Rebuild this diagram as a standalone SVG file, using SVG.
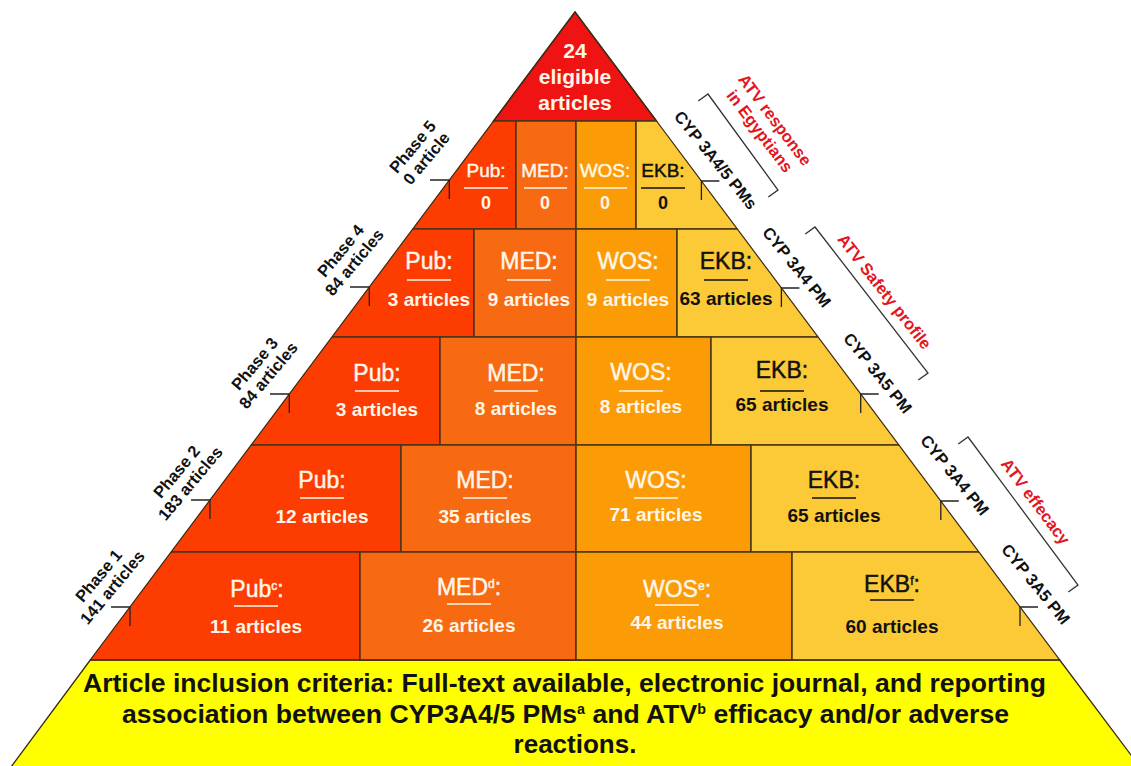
<svg xmlns="http://www.w3.org/2000/svg" width="1131" height="766" viewBox="0 0 1131 766">
<style>
.cell{stroke:#4a3418;stroke-width:1.5}
.pub{fill:#FD3C02}
.med{fill:#F86A12}
.wos{fill:#FB9B06}
.ekb{fill:#FCC937}
.h{font-family:"Liberation Sans",Arial,sans-serif;font-size:23px;text-anchor:middle;stroke-width:0.45px}
.c{font-family:"Liberation Sans",Arial,sans-serif;font-size:19px;font-weight:bold;text-anchor:middle}
.s{font-size:19px}
.w{fill:#FFF6E8}
.h.w{stroke:#FFF6E8}
.k{fill:#111}
.h.k{stroke:#111}
.ulw{stroke:#FFF6E8;stroke-width:1.6}
.ulk{stroke:#111;stroke-width:1.6}
.sup{font-size:12px}
.lbl{font-family:"Liberation Sans",Arial,sans-serif;font-size:16.5px;font-weight:bold;text-anchor:middle;fill:#111}
.red{font-family:"Liberation Sans",Arial,sans-serif;font-size:16.5px;font-weight:bold;text-anchor:middle;fill:#E3151D}
.tick{fill:none;stroke:#222;stroke-width:1.3}
.br{fill:none;stroke:#333;stroke-width:1.3}
.base{font-family:"Liberation Sans",Arial,sans-serif;font-size:26px;font-weight:bold;fill:#111}
</style>
<defs>
<clipPath id="tri"><polygon points="575,12 1059.7,660 90.3,660"/></clipPath>
</defs>
<rect width="1131" height="766" fill="#fff"/>

<g id="base">
<polygon points="90.3,660 1059.7,660 1140,767 11,767" fill="#FFFF00" stroke="#3a2a14" stroke-width="1.3"/>
<text class="base" x="83" y="692" textLength="963" lengthAdjust="spacingAndGlyphs">Article inclusion criteria: Full-text available, electronic journal, and reporting</text>
<text class="base" x="122" y="723" textLength="887" lengthAdjust="spacingAndGlyphs">association between CYP3A4/5 PMs<tspan font-size="14" dy="-9">a</tspan><tspan dy="9"> and ATV</tspan><tspan font-size="14" dy="-9">b</tspan><tspan dy="9"> efficacy and/or adverse</tspan></text>
<text class="base" x="575" y="753" text-anchor="middle">reactions.</text>
</g>

<g id="apex">
<polygon points="575,12 656.5,121 493.5,121" fill="#F01313" stroke="#4a3418" stroke-width="1.5"/>
<text class="c w" x="575" y="58" style="font-size:21px">24</text>
<text class="c w" x="575" y="84" style="font-size:21px">eligible</text>
<text class="c w" x="575" y="110" style="font-size:21px">articles</text>
</g>

<g id="row5">
<g id="pub5"><rect class="cell pub" x="0" y="121" width="516" height="108" clip-path="url(#tri)"/>
<text class="h w s" x="486" y="177">Pub:</text><line class="ulw" x1="464" y1="188" x2="508" y2="188"/><text class="c w" x="486" y="209" style="font-size:18px">0</text></g>
<g id="med5"><rect class="cell med" x="516" y="121" width="60" height="108"/>
<text class="h w s" x="545" y="177">MED:</text><line class="ulw" x1="524" y1="188" x2="567" y2="188"/><text class="c w" x="545" y="209" style="font-size:18px">0</text></g>
<g id="wos5"><rect class="cell wos" x="576" y="121" width="60" height="108"/>
<text class="h w s" x="605" y="177">WOS:</text><line class="ulw" x1="584" y1="188" x2="627" y2="188"/><text class="c w" x="605" y="209" style="font-size:18px">0</text></g>
<g id="ekb5"><rect class="cell ekb" x="636" y="121" width="495" height="108" clip-path="url(#tri)"/>
<text class="h k s" x="663" y="177">EKB:</text><line class="ulk" x1="641" y1="188" x2="685" y2="188"/><text class="c k" x="663" y="209" style="font-size:18px">0</text></g>
</g>

<g id="row4">
<g id="pub4"><rect class="cell pub" x="0" y="229" width="474" height="108" clip-path="url(#tri)"/>
<text class="h w" x="429" y="269">Pub:</text><line class="ulw" x1="407" y1="280" x2="451" y2="280"/><text class="c w" x="429" y="306">3 articles</text></g>
<g id="med4"><rect class="cell med" x="474" y="229" width="102" height="108"/>
<text class="h w" x="529" y="269">MED:</text><line class="ulw" x1="507" y1="280" x2="551" y2="280"/><text class="c w" x="529" y="306">9 articles</text></g>
<g id="wos4"><rect class="cell wos" x="576" y="229" width="101" height="108"/>
<text class="h w" x="628" y="269">WOS:</text><line class="ulw" x1="606" y1="280" x2="650" y2="280"/><text class="c w" x="628" y="306">9 articles</text></g>
<g id="ekb4"><rect class="cell ekb" x="677" y="229" width="454" height="108" clip-path="url(#tri)"/>
<text class="h k" x="726" y="269">EKB:</text><line class="ulk" x1="704" y1="280" x2="748" y2="280"/><text class="c k" x="726" y="305">63 articles</text></g>
</g>

<g id="row3">
<g id="pub3"><rect class="cell pub" x="0" y="337" width="440" height="108" clip-path="url(#tri)"/>
<text class="h w" x="377" y="381">Pub:</text><line class="ulw" x1="355" y1="391" x2="399" y2="391"/><text class="c w" x="377" y="416">3 articles</text></g>
<g id="med3"><rect class="cell med" x="440" y="337" width="136" height="108"/>
<text class="h w" x="516" y="381">MED:</text><line class="ulw" x1="494" y1="391" x2="538" y2="391"/><text class="c w" x="516" y="415">8 articles</text></g>
<g id="wos3"><rect class="cell wos" x="576" y="337" width="135" height="108"/>
<text class="h w" x="641" y="380">WOS:</text><line class="ulw" x1="619" y1="391" x2="663" y2="391"/><text class="c w" x="641" y="413">8 articles</text></g>
<g id="ekb3"><rect class="cell ekb" x="711" y="337" width="420" height="108" clip-path="url(#tri)"/>
<text class="h k" x="782" y="378">EKB:</text><line class="ulk" x1="760" y1="391" x2="804" y2="391"/><text class="c k" x="782" y="411">65 articles</text></g>
</g>

<g id="row2">
<g id="pub2"><rect class="cell pub" x="0" y="445" width="401" height="107" clip-path="url(#tri)"/>
<text class="h w" x="322" y="488">Pub:</text><line class="ulw" x1="300" y1="498" x2="344" y2="498"/><text class="c w" x="322" y="523">12 articles</text></g>
<g id="med2"><rect class="cell med" x="401" y="445" width="175" height="107"/>
<text class="h w" x="485" y="488">MED:</text><line class="ulw" x1="463" y1="498" x2="507" y2="498"/><text class="c w" x="485" y="523">35 articles</text></g>
<g id="wos2"><rect class="cell wos" x="576" y="445" width="175" height="107"/>
<text class="h w" x="656" y="488">WOS:</text><line class="ulw" x1="634" y1="498" x2="678" y2="498"/><text class="c w" x="656" y="521">71 articles</text></g>
<g id="ekb2"><rect class="cell ekb" x="751" y="445" width="380" height="107" clip-path="url(#tri)"/>
<text class="h k" x="834" y="488">EKB:</text><line class="ulk" x1="812" y1="498" x2="856" y2="498"/><text class="c k" x="834" y="522">65 articles</text></g>
</g>

<g id="row1">
<g id="pub1"><rect class="cell pub" x="0" y="552" width="360" height="108" clip-path="url(#tri)"/>
<text class="h w" x="257" y="597">Pub<tspan class="sup" dy="-7">c</tspan><tspan dy="7">:</tspan></text><line class="ulw" x1="234" y1="606" x2="278" y2="606"/><text class="c w" x="256" y="633">11 articles</text></g>
<g id="med1"><rect class="cell med" x="360" y="552" width="216" height="108"/>
<text class="h w" x="469" y="595">MED<tspan class="sup" dy="-7">d</tspan><tspan dy="7">:</tspan></text><line class="ulw" x1="447" y1="604" x2="491" y2="604"/><text class="c w" x="469" y="632">26 articles</text></g>
<g id="wos1"><rect class="cell wos" x="576" y="552" width="216" height="108"/>
<text class="h w" x="677" y="597">WOS<tspan class="sup" dy="-7">e</tspan><tspan dy="7">:</tspan></text><line class="ulw" x1="655" y1="605" x2="699" y2="605"/><text class="c w" x="677" y="629">44 articles</text></g>
<g id="ekb1"><rect class="cell ekb" x="792" y="552" width="339" height="108" clip-path="url(#tri)"/>
<text class="h k" x="892" y="592">EKB<tspan class="sup" dy="-7">f</tspan><tspan dy="7">:</tspan></text><line class="ulk" x1="870" y1="600" x2="914" y2="600"/><text class="c k" x="892" y="633">60 articles</text></g>
</g>

<polygon points="575,12 1059.7,660 90.3,660" fill="none" stroke="#3a2a14" stroke-width="1.2"/>

<g id="connectors">
<path class="tick" d="M430,180H449.3V199"/>
<path class="tick" d="M350,287H369.3V306"/>
<path class="tick" d="M270,394H289.3V413"/>
<path class="tick" d="M191,500H210V519"/>
<path class="tick" d="M111,607H130V626"/>
<path class="tick" d="M719.4,181H701.4V200"/>
<path class="tick" d="M799.4,288H781.4V307"/>
<path class="tick" d="M878.7,394H860.7V413"/>
<path class="tick" d="M958.8,501H940.8V520"/>
<path class="tick" d="M1038,607H1020V626"/>
<polyline class="br" points="698.3,101.1 708,94 778,190 768.3,197.1"/>
<polyline class="br" points="805.3,234.1 815,227 928,373 918.3,380.1"/>
<polyline class="br" points="958.3,444.1 968,437 1078,585 1068.3,592.1"/>
</g>

<g id="phase-labels">
<g id="phase5" transform="translate(420,153) rotate(-50)"><text class="lbl"><tspan x="0" y="-4">Phase 5</tspan><tspan x="0" y="14">0 article</tspan></text></g>
<g id="phase4" transform="translate(348,257) rotate(-50)"><text class="lbl"><tspan x="0" y="-4">Phase 4</tspan><tspan x="0" y="14">84 articles</tspan></text></g>
<g id="phase3" transform="translate(262,370) rotate(-50)"><text class="lbl"><tspan x="0" y="-4">Phase 3</tspan><tspan x="0" y="14">84 articles</tspan></text></g>
<g id="phase2" transform="translate(184,478) rotate(-50)"><text class="lbl"><tspan x="0" y="-4">Phase 2</tspan><tspan x="0" y="14">183 articles</tspan></text></g>
<g id="phase1" transform="translate(106,582) rotate(-50)"><text class="lbl"><tspan x="0" y="-4">Phase 1</tspan><tspan x="0" y="14">141 articles</tspan></text></g>
</g>

<g id="cyp-labels">
<g id="cyp5" transform="translate(716,160) rotate(51)"><text class="lbl" y="6">CYP 3A4/5 PMs</text></g>
<g id="cyp4" transform="translate(797,267) rotate(51)"><text class="lbl" y="6">CYP 3A4 PM</text></g>
<g id="cyp3" transform="translate(878,373) rotate(51)"><text class="lbl" y="6">CYP 3A5 PM</text></g>
<g id="cyp2" transform="translate(955,475) rotate(51)"><text class="lbl" y="6">CYP 3A4 PM</text></g>
<g id="cyp1" transform="translate(1036,584) rotate(51)"><text class="lbl" y="6">CYP 3A5 PM</text></g>
</g>

<g id="groups">
<g id="egypt" transform="translate(768,125) rotate(53)"><text class="red"><tspan x="0" y="-3">ATV response</tspan><tspan x="0" y="16">in Egyptians</tspan></text></g>
<g id="safety" transform="translate(884,292) rotate(52)"><text class="red" y="5">ATV Safety profile</text></g>
<g id="efficacy" transform="translate(1035,502) rotate(53)"><text class="red" y="5">ATV effecacy</text></g>
</g>
</svg>
